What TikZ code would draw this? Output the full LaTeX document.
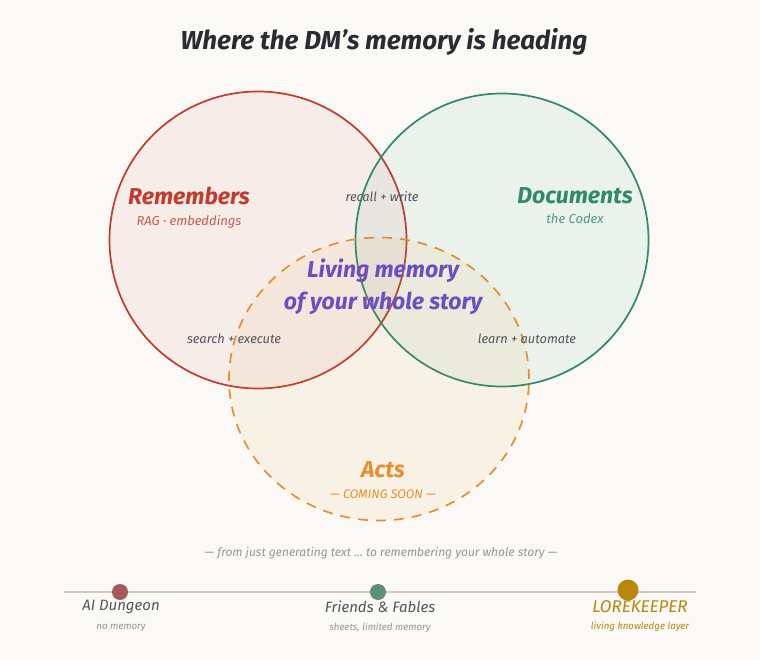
\documentclass[tikz,border=0pt]{standalone}
\usepackage{fontspec}
\setmainfont{Fira Sans}
\usetikzlibrary{positioning,shapes.geometric}
\definecolor{bg}{HTML}{FAF9F5}
\definecolor{ink}{HTML}{2A2A33}
\definecolor{inkdim}{HTML}{55535C}
\definecolor{muted}{HTML}{9A968E}
\definecolor{remred}{HTML}{C23B2E}
\definecolor{docgreen}{HTML}{2E8A6A}
\definecolor{actorange}{HTML}{E58F2E}
\definecolor{livepurple}{HTML}{6A4EC2}
\definecolor{rail}{HTML}{CFCBC0}
\definecolor{dotred}{HTML}{A4585A}
\definecolor{dotgreen}{HTML}{5A8F78}
\definecolor{gold}{HTML}{B8860B}

\begin{document}
\begin{tikzpicture}[
  x=1pt, y=-1pt,
  every node/.append style={font=\itshape},
  ring/.style={draw, line width=1.7pt, inner sep=0pt},
  head/.style={font=\fontsize{23}{26}\selectfont\itshape\bfseries},
  sub/.style={font=\fontsize{13}{15}\selectfont\itshape},
  pair/.style={font=\fontsize{12.8}{14}\selectfont\itshape, text=inkdim},
  stop/.style={circle, inner sep=0pt, minimum size=16pt},
  who/.style={font=\fontsize{15}{17}\selectfont\itshape, text=inkdim},
  what/.style={font=\fontsize{9.7}{11}\selectfont\itshape, text=muted},
]
\useasboundingbox[fill=bg] (0,0) rectangle (760,660);

% Title
\node[text=ink, font=\fontsize{26}{29}\selectfont\itshape\bfseries] (title) at (384,42) {Where the DM’s memory is heading};

% Circles
\node[ring, circle, draw=remred, fill=remred, fill opacity=0.06, minimum size=297pt] (remc) at (258,240) {};
\node[ring, circle, draw=docgreen, fill=docgreen, fill opacity=0.07, minimum size=293pt] (docc) at (502,240) {};
\node[ring, ellipse, dashed, dash pattern=on 10pt off 8pt, draw=actorange, fill=actorange, fill opacity=0.07,
  minimum width=300pt, minimum height=283pt] (actc) at (379,379) {};

% Circle labels
\node[head, text=remred] (rem) at (189,196) {Remembers};
\node[sub, text=remred!85, below=3pt of rem] (remsub) {RAG · embeddings};
\node[head, text=docgreen] (doc) at (575,196) {Documents};
\node[sub, text=docgreen!85, below=3pt of doc] (docsub) {the Codex};
\node[head, text=actorange] (act) at (383,470) {Acts};
\node[sub, text=actorange, font=\fontsize{12.4}{14}\selectfont\itshape, below=5pt of act] (actsub) {— COMING SOON —};

% Overlaps
\node[pair] (recall) at (382,197) {recall + write};
\node[pair] (search) at (234,339) {search + execute};
\node[pair] (learn) at (527,339) {learn + automate};
\node[text=livepurple, align=center, font=\fontsize{23}{32}\selectfont\itshape\bfseries] (living) at (383,287)
  {Living memory\\of your whole story};

% Timeline
\node[text=muted, font=\fontsize{12}{14}\selectfont\itshape] (tagline) at (381,553)
  {— from just generating text … to remembering your whole story —};
\coordinate (railL) at (64,592);
\coordinate (railR) at (696,592);
\draw[rail, line width=1.5pt] (railL) -- (railR);

\node[stop, fill=dotred] (s1) at (120,592) {};
\node[stop, fill=dotgreen] (s2) at (378,592) {};
\node[stop, fill=gold, minimum size=21pt] (s3) at (628,590) {};

\node[who] (aid) at (121,607) {AI Dungeon};
\node[what, below=3pt of aid] (aidsub) {no memory};
\node[who] (ff) at (380,607) {Friends \& Fables};
\node[what, below=3pt of ff] (ffsub) {sheets, limited memory};
\node[who, text=gold, font=\fontsize{17}{19}\selectfont\itshape] (lk) at (640,607) {LOREKEEPER};
\node[what, text=gold, below=2pt of lk] (lksub) {living knowledge layer};

\end{tikzpicture}
\end{document}
